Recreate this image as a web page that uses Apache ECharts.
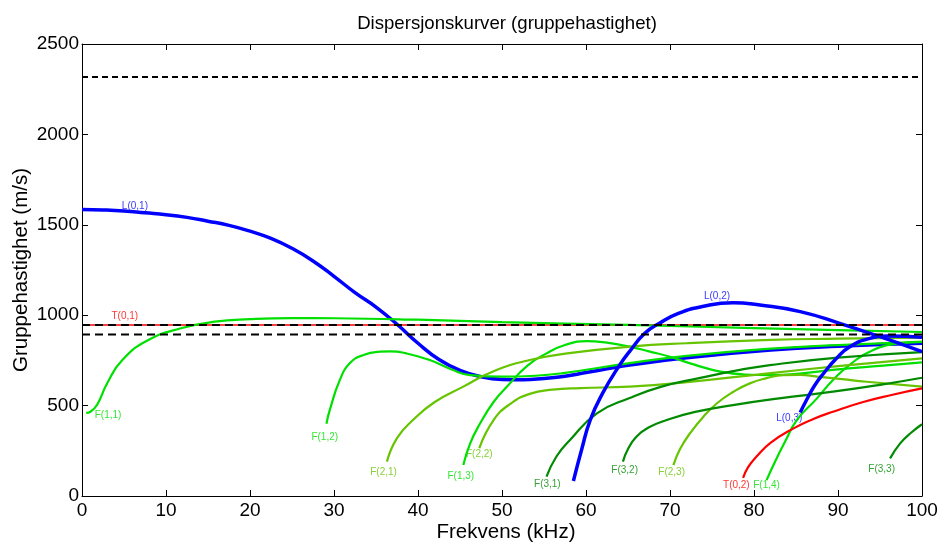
<!DOCTYPE html>
<html>
<head>
<meta charset="utf-8">
<script src="https://cdn.jsdelivr.net/npm/echarts@6/dist/echarts.min.js"></script>
<style>
html, body { margin: 0; padding: 0; background: #fff; }
#chart { width: 946px; height: 545px; }
</style>
</head>
<body>
<div id="chart"></div>
<script>
// kurvedata [kHz, m/s] lest av figuren
var L01 = [[0,1585],[2.5,1582],[5,1576],[7.5,1566],[10,1556],[12.5,1541],[15,1520],[17.5,1497],[20,1465],[22.5,1425],[25,1370],[27.5,1300],[30,1215],[32.5,1125],[35,1045],[37.5,950],[40,845],[42.5,755],[45,695],[47.5,660],[50,645],[52.5,643],[55,650],[57.5,662],[60,683],[62.5,703],[65.2,724],[72,765],[82,807],[90,828],[100,845]];
var L02 = [[58.5,83],[59.5,260],[60.5,420],[62,570],[64,724],[65.2,800],[67,900],[68.8,957],[71,1010],[74,1050],[77.5,1069],[80.7,1056],[85.5,1020],[90.2,955],[95,881],[100,798]];
var L03 = [[85.5,462],[86.3,535],[87.2,610],[88.3,679],[89.8,760],[91.4,826],[93.8,872],[96,885],[100,878]];
var T01 = [[0,946],[100,946]];
var T02 = [[78.7,100],[79.3,160],[80.3,218],[82,295],[84.7,374],[87,425],[89.4,466],[93,520],[96.5,560],[100,595]];
var F11 = [[0.5,460],[1,466],[1.8,505],[3,624],[4.8,752],[7.9,863],[11.9,929],[15.8,964],[20,978],[25,984],[30,983],[40,975],[50,962],[65,946],[80,929],[90,918],[100,907]];
var F12 = [[29.1,400],[29.5,476],[30.7,642],[31.9,735],[33.5,780],[35.5,798],[36.7,800],[38.5,790],[41.4,752],[44,700],[46.2,669],[50,660],[54,665],[57.3,680],[65.2,735],[72,775],[82,815],[90,835],[100,852]];
var F13 = [[45.4,171],[46.2,290],[47.4,402],[49,520],[50.6,605],[53,720],[55.3,789],[57.5,835],[60.1,857],[62.5,848],[65.2,826],[67.5,800],[70,770],[73,725],[76,688],[79,672],[82,669],[86,680],[90,700],[95,720],[100,739]];
var F14 = [[81.5,88],[82.5,190],[83.8,310],[85.1,420],[87.5,540],[89.4,642],[91.5,730],[94.2,808],[97.4,845],[100,853]];
var F21 = [[36.3,190],[37.5,320],[39.4,420],[42,520],[45.4,605],[49,690],[53.3,752],[58,790],[65.2,826],[72,845],[82,863],[90,870],[100,876]];
var F22 = [[47.3,265],[49,420],[51,510],[53.3,565],[56,588],[59.3,597],[65.2,605],[72,630],[82,680],[90,718],[100,761]];
var F23 = [[70.4,171],[71.2,260],[72.4,348],[74,440],[75.6,513],[77.5,575],[79.5,623],[81.5,652],[83.5,669],[85.5,670],[87.5,660],[90.5,646],[93.4,632],[100,605]];
var F31 = [[55.3,107],[56.5,220],[58.1,310],[61.3,457],[65.2,542],[69,605],[73.6,653],[78,695],[81.9,724],[90,765],[100,796]];
var F32 = [[64.4,190],[65,260],[66,328],[67.5,380],[69.6,420],[73,465],[77.5,503],[83,540],[89.4,577],[95,615],[100,654]];
var F33 = [[96.2,208],[97.4,291],[98.7,350],[100,397]];
// stiplede grenser
var grense1 = [[0,2317],[100,2317]];
var grense2 = [[0,946],[100,946]];
var grense3 = [[0,893],[100,893]];
// etiketter
var etiketter = ['L(0,1)','T(0,1)','F(1,1)','F(1,2)','F(2,1)','F(1,3)','F(2,2)','F(3,1)','F(3,2)','F(2,3)','T(0,2)','F(1,4)','L(0,2)','L(0,3)','F(3,3)'];
var etikettPos = [[6.3,1604],[5.1,996],[3.1,448],[28.9,326],[35.9,133],[45.1,111],[47.3,232],[55.4,66],[64.6,144],[70.2,133],[77.9,61],[81.5,61],[75.6,1106],[84.2,431],[95.2,149]];

var BLA = '#0000ff', ROD = '#ff0000', GR1 = '#00e000', GR2 = '#66c400', GR3 = '#008a00';
var etikettFarge = [BLA, ROD, GR1, GR1, GR2, GR1, GR2, GR3, GR3, GR2, ROD, GR1, BLA, BLA, GR3];
var FONT = "'Liberation Sans', Arial, sans-serif";

function kurve(data, farge, bredde) {
	return {
		type: 'line', data: data, showSymbol: false, smooth: 0.5,
		lineStyle: { color: farge, width: bredde }, silent: true
	};
}
function stiplet(data, monster) {
	return {
		type: 'line', data: data, showSymbol: false,
		lineStyle: { color: '#000', width: 2, type: monster }, silent: true
	};
}
var tick = { show: true, inside: true, length: 6, lineStyle: { color: '#000' } };
var linje = { show: true, onZero: false, lineStyle: { color: '#000', width: 1 } };

var myChart = echarts.init(document.getElementById('chart'));
var option = {
	animation: false,
	title: {
		text: 'Dispersjonskurver (gruppehastighet)',
		left: 502, top: 9, textAlign: 'center',
		textStyle: { fontFamily: FONT, fontSize: 18.6, fontWeight: 'normal', color: '#000' }
	},
	grid: { left: 82, right: 24, top: 44, bottom: 49, containLabel: false, outerBoundsMode: 'none' },
	xAxis: [{
		type: 'value', min: 0, max: 100, interval: 10, position: 'bottom',
		name: 'Frekvens (kHz)', nameLocation: 'middle', nameGap: 26, nameMoveOverlap: false,
		nameTextStyle: { fontFamily: FONT, fontSize: 20.5, color: '#000', padding: [0, 0, 0, 8] },
		axisLine: linje, axisTick: tick,
		axisLabel: { fontFamily: FONT, fontSize: 19, color: '#000', margin: 5 },
		splitLine: { show: false }
	}, {
		type: 'value', min: 0, max: 100, interval: 10, position: 'top',
		axisLine: linje, axisTick: tick,
		axisLabel: { show: false }, splitLine: { show: false }
	}],
	yAxis: [{
		type: 'value', min: 0, max: 2500, interval: 500, position: 'left',
		name: 'Gruppehastighet (m/s)', nameLocation: 'middle', nameGap: 50, nameMoveOverlap: false,
		nameTextStyle: { fontFamily: FONT, fontSize: 20.5, color: '#000' },
		axisLine: linje, axisTick: tick,
		axisLabel: { fontFamily: FONT, fontSize: 19, color: '#000', margin: 3, formatter: function(v) { return String(v); } },
		splitLine: { show: false }
	}, {
		type: 'value', min: 0, max: 2500, interval: 500, position: 'right',
		axisLine: linje, axisTick: tick,
		axisLabel: { show: false }, splitLine: { show: false }
	}],
	series: [
		kurve(T01, ROD, 1.5),
		kurve(L01, BLA, 3.5),
		kurve(F11, GR1, 2.2),
		kurve(F12, GR1, 2.2),
		kurve(F13, GR1, 2.2),
		kurve(F14, GR1, 2.2),
		kurve(F21, GR2, 2.2),
		kurve(F22, GR2, 2.2),
		kurve(F23, GR2, 2.2),
		kurve(F31, GR3, 2.2),
		kurve(F32, GR3, 2.2),
		kurve(F33, GR3, 2.2),
		kurve(T02, ROD, 2.2),
		kurve(L02, BLA, 3.5),
		kurve(L03, BLA, 3.5),
		stiplet(grense1, [6, 4]),
		stiplet(grense2, [8, 5]),
		stiplet(grense3, [8, 5]),
		{
			type: 'scatter', symbolSize: 0, silent: true,
			data: etiketter.map(function(n, i) {
				return { name: n, value: etikettPos[i], label: { color: etikettFarge[i] } };
			}),
			label: {
				show: true, position: 'inside', formatter: '{b}',
				fontFamily: FONT, fontSize: 10
			}
		}
	]
};
myChart.setOption(option);
</script>
</body>
</html>
